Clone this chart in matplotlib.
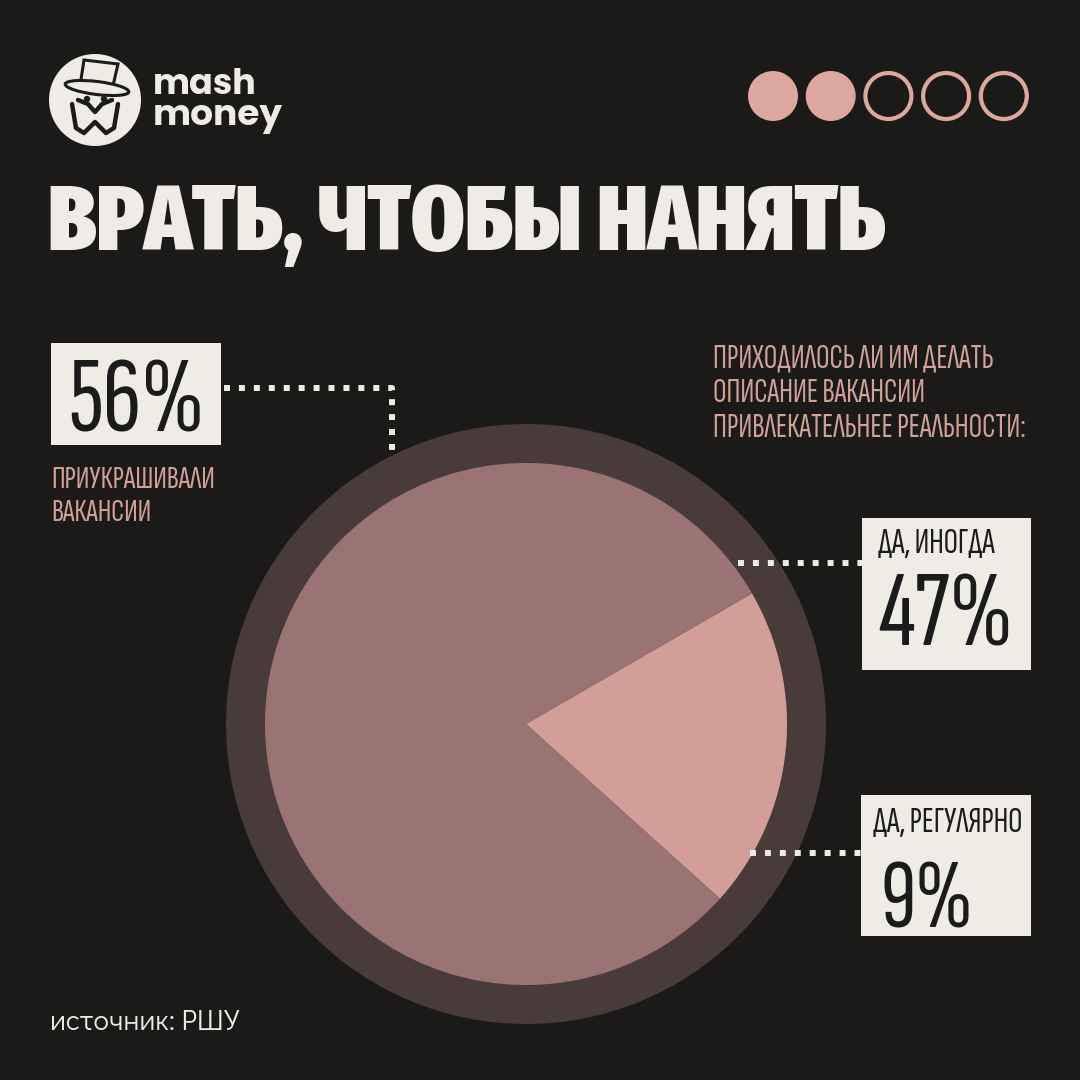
import matplotlib
matplotlib.use("Agg")
import matplotlib.pyplot as plt
from matplotlib import font_manager as fm
from matplotlib.patches import Circle, Rectangle, Ellipse, Polygon

# ---------------- data ----------------
title = "ВРАТЬ, ЧТОБЫ НАНЯТЬ"
total_label = "56%"
total_caption = ["ПРИУКРАШИВАЛИ", "ВАКАНСИИ"]
question = ["ПРИХОДИЛОСЬ ЛИ ИМ ДЕЛАТЬ", "ОПИСАНИЕ ВАКАНСИИ", "ПРИВЛЕКАТЕЛЬНЕЕ РЕАЛЬНОСТИ:"]
answer_names = ["ДА, ИНОГДА", "ДА, РЕГУЛЯРНО"]
answer_values = ["47%", "9%"]
disc_shares = [20, 80]          # light wedge vs rest of the disc, as drawn
source = "источник: РШУ"
brand = ["mash", "money"]
page_dots_filled = [True, True, False, False, False]

# ---------------- style ----------------
BG = "#1b1a19"
RING = "#4a3b3b"
DISC = "#9a7472"
WEDGE = "#d39e97"
PINK = "#dba79e"
PINK_TXT = "#cfa197"
PAPER = "#eeece5"
INK = "#1c1b1b"

fonts = fm.fontManager.ttflist
avail = set(f.name for f in fonts)
def pick(*names):
    for n in names:
        if n in avail:
            return [n, "DejaVu Sans"]
    return ["DejaVu Sans"]

def pick_bold(*names):
    for n in names:
        if any(f.name == n and isinstance(f.weight, int) and f.weight >= 700 for f in fonts):
            return [n, "DejaVu Sans"]
    return ["DejaVu Sans"]

F_TITLE = pick("Fira Sans Extra Condensed", "Roboto Condensed", "Oswald")
F_COND = pick("Sofia Sans Extra Condensed", "Fira Sans Extra Condensed", "Oswald")
F_BRAND = pick_bold("Fredoka", "Baloo 2", "Poppins", "Fira Sans", "Rubik")
F_SRC = pick("Didact Gothic", "Comfortaa", "Questrial")

fig = plt.figure(figsize=(10.8, 10.8), dpi=100)
fig.patch.set_facecolor(BG)
ax = fig.add_axes([0, 0, 1, 1])
ax.set_facecolor(BG)

renderer = fig.canvas.get_renderer()

def fit_text(x, y, s, width, **kw):
    t = ax.text(x, y, s, fontsize=20, va="baseline", ha="left", **kw)
    w = t.get_window_extent(renderer=renderer).width
    t.set_fontsize(20 * width / w)
    return t

# ---------------- pie ----------------
ax.add_patch(Circle((526, 724), 300, facecolor=RING, edgecolor="none", zorder=1))
ax.pie(disc_shares, colors=[WEDGE, DISC], startangle=-30, counterclock=True,
       center=(526, 724), radius=261, wedgeprops=dict(linewidth=0, zorder=2))

# ---------------- axes frame ----------------
ax.set_xlim(0, 1080)
ax.set_ylim(1080, 0)
ax.set_aspect("equal")
ax.axis("off")

# ---------------- logo ----------------
ax.add_patch(Circle((95, 100), 46, facecolor=PAPER, edgecolor="none", zorder=3))
ax.add_patch(Polygon([[80, 86], [84, 60], [118, 64], [112, 90]], closed=True,
                     facecolor=PAPER, edgecolor=INK, linewidth=2.2, zorder=4))
ax.add_patch(Polygon([[81, 80], [113, 84], [112, 90], [80, 86]], closed=True,
                     facecolor=INK, edgecolor=INK, linewidth=1, zorder=4))
ax.add_patch(Ellipse((97, 88), 64, 13, angle=7, facecolor=PAPER, edgecolor=INK,
                     linewidth=2.2, zorder=4))
ax.plot([72, 76, 84, 95, 106, 114, 118], [104, 128, 133, 122, 133, 128, 104],
        color=INK, linewidth=3.2, solid_capstyle="round", solid_joinstyle="round", zorder=5)
ax.plot([78, 88, 95, 102, 112], [100, 104, 112, 104, 100], color=INK, linewidth=3.2,
        solid_capstyle="round", zorder=5)
ax.add_patch(Circle((87, 99), 3.2, facecolor=INK, zorder=5))
ax.add_patch(Circle((104, 99), 3.2, facecolor=INK, zorder=5))
fit_text(153, 94, brand[0], 104, family=F_BRAND, weight="bold", color=PAPER)
fit_text(153, 125, brand[1], 130, family=F_BRAND, weight="bold", color=PAPER)

# ---------------- page dots ----------------
for i, filled in enumerate(page_dots_filled):
    cx = 773 + i * 57.7
    if filled:
        ax.add_patch(Circle((cx, 96), 25, facecolor=PINK, edgecolor="none", zorder=3))
    else:
        ax.add_patch(Circle((cx, 96), 23, facecolor="none", edgecolor=PINK,
                            linewidth=3.0, zorder=3))

# ---------------- title ----------------
fit_text(48, 250, title, 837, family=F_TITLE, weight="black", color=PAPER)

# ---------------- 56% block ----------------
ax.add_patch(Rectangle((51, 343), 170, 102, facecolor=PAPER, edgecolor="none", zorder=3))
fit_text(68, 432, total_label, 137, family=F_COND, weight="normal", color=INK, zorder=4)
t = fit_text(51, 488, total_caption[0], 164, family=F_COND, weight="normal", color=PINK_TXT)
ax.text(51, 521, total_caption[1], fontsize=t.get_fontsize(), family=F_COND, weight="normal",
        color=PINK_TXT, va="baseline")

dot_style = dict(color=PAPER, linewidth=4.3, linestyle=(0, (1, 1.5)),
                 dash_capstyle="butt", zorder=3)
ax.plot([224, 392, 392], [388, 388, 456], **dot_style)

# ---------------- question ----------------
t = fit_text(713, 437, question[2], 314, family=F_COND, weight="normal", color=PINK_TXT)
for yy, s in zip([367, 402], question[:2]):
    ax.text(713, yy, s, fontsize=t.get_fontsize(), family=F_COND, weight="normal",
            color=PINK_TXT, va="baseline")

# ---------------- answers ----------------
ax.add_patch(Rectangle((862, 518), 169, 152, facecolor=PAPER, edgecolor="none", zorder=3))
fit_text(878, 553, answer_names[0], 117, family=F_COND, weight="normal", color=INK, zorder=4)
fit_text(878, 645, answer_values[0], 135, family=F_COND, weight="normal", color=INK, zorder=4)
ax.plot([738, 862], [563, 563], **dot_style)

ax.add_patch(Rectangle((861, 795), 170, 141, facecolor=PAPER, edgecolor="none", zorder=3))
fit_text(873, 832, answer_names[1], 150, family=F_COND, weight="normal", color=INK, zorder=4)
fit_text(880, 927, answer_values[1], 93, family=F_COND, weight="normal", color=INK, zorder=4)
ax.plot([750, 861], [853, 853], **dot_style)

# ---------------- source ----------------
fit_text(50, 1030, source, 190, family=F_SRC, color=PAPER)

fig.savefig("out.png", facecolor=BG)
